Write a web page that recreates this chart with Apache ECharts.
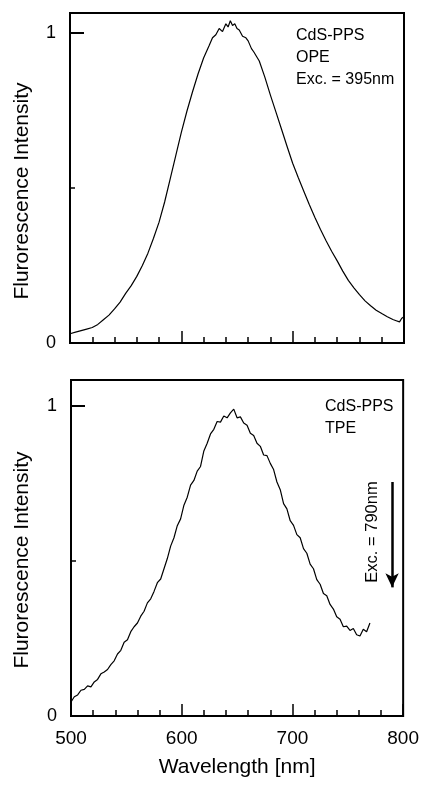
<!DOCTYPE html>
<html><head><meta charset="utf-8">
<script src="https://cdn.jsdelivr.net/npm/echarts@6/dist/echarts.min.js"></script>
<style>html,body{margin:0;padding:0;background:#fff}#c{width:422px;height:789px}</style>
</head><body><div id="c"></div>
<script>
// Top panel: one-photon excitation (OPE)
const opeWavelength = [500,505,510,515,520,525,530,535,540,545,550,555,560,565,570,575,580,585,590,595,600,605,610,615,620,625,628,631,634,637,640,642,644,646,648,650,652,655,658,660,663,665,670,675,680,685,690,695,700,705,710,715,720,725,730,735,740,745,750,755,760,765,770,775,780,785,790,793,796,798,800];
const opeIntensity  = [0.030,0.035,0.040,0.045,0.050,0.060,0.075,0.090,0.110,0.132,0.160,0.185,0.215,0.250,0.290,0.338,0.390,0.455,0.530,0.605,0.680,0.748,0.810,0.868,0.920,0.960,0.985,0.995,1.015,1.005,1.030,1.020,1.040,1.025,1.030,1.015,1.010,0.990,0.985,0.975,0.950,0.940,0.910,0.858,0.800,0.745,0.690,0.634,0.580,0.534,0.490,0.446,0.405,0.366,0.330,0.296,0.265,0.232,0.202,0.178,0.156,0.136,0.120,0.106,0.095,0.085,0.076,0.072,0.068,0.080,0.085];

// Bottom panel: two-photon excitation (TPE)
const tpeWavelength = [500,503,506,509,512,515,518,521,524,527,530,533,536,539,542,545,548,551,554,557,560,563,566,569,572,575,578,581,584,587,590,593,596,599,602,605,608,611,614,617,620,623,626,629,632,635,638,641,644,647,650,653,656,659,662,665,668,671,674,677,680,683,686,689,692,695,698,701,704,707,710,713,716,719,722,725,728,731,734,737,740,743,746,749,752,755,758,761,764,767,770];
const tpeIntensity  = [0.045,0.062,0.068,0.083,0.086,0.097,0.094,0.110,0.118,0.136,0.142,0.150,0.166,0.178,0.200,0.212,0.238,0.246,0.272,0.288,0.300,0.322,0.338,0.365,0.378,0.402,0.430,0.442,0.475,0.508,0.548,0.575,0.614,0.636,0.680,0.706,0.745,0.760,0.790,0.805,0.855,0.880,0.910,0.925,0.950,0.948,0.968,0.962,0.978,0.990,0.962,0.965,0.945,0.938,0.912,0.905,0.880,0.870,0.842,0.840,0.815,0.795,0.755,0.730,0.685,0.668,0.630,0.615,0.585,0.575,0.540,0.525,0.490,0.475,0.440,0.425,0.395,0.388,0.360,0.345,0.320,0.312,0.288,0.290,0.276,0.282,0.262,0.258,0.280,0.272,0.300];

const xTickLabels = ['500','600','700','800'];
const yTickLabels = {0:'0',1:'1'};
const excArrow = [[790,0.755],[790,0.415]];

const FONT = 'Liberation Sans';
const chart = echarts.init(document.getElementById('c'));

function xAxisFor(gridIndex, showLabels, name) {
  return {
    type:'value', gridIndex, min:500, max:800, interval:100,
    axisLine:{show:true, onZero:false, lineStyle:{color:'#000', width:2}},
    axisTick:{show:true, inside:true, length:12, lineStyle:{color:'#000', width:1.5}},
    minorTick:{show:true, splitNumber:5, length:6, lineStyle:{color:'#000', width:1.5}},
    splitLine:{show:false}, minorSplitLine:{show:false},
    axisLabel:{show:showLabels, color:'#000', fontFamily:FONT, fontSize:19, margin:13,
      formatter:(v)=> xTickLabels.indexOf(String(v))>=0 ? String(v) : ''},
    name: name, nameLocation:'middle', nameGap:41,
    nameTextStyle:{color:'#000', fontFamily:FONT, fontSize:21}
  };
}
function yAxisMain(gridIndex, max) {
  return {
    type:'value', gridIndex, min:0, max:max, interval:0.5,
    axisLine:{show:true, lineStyle:{color:'#000', width:2}},
    axisTick:{show:true, inside:true, length:5, lineStyle:{color:'#000', width:1.5}},
    splitLine:{show:false},
    axisLabel:{show:true, color:'#000', fontFamily:FONT, fontSize:18, margin:14,
      formatter:(v)=> (yTickLabels[v]!==undefined ? yTickLabels[v] : '')}
  };
}
function yAxisMajor(gridIndex, max) {
  return {
    type:'value', gridIndex, min:0, max:max, interval:1, position:'left',
    axisLine:{show:false},
    axisTick:{show:true, inside:true, length:14, lineStyle:{color:'#000', width:2}},
    splitLine:{show:false}, axisLabel:{show:false}
  };
}

const TXT = '16px "Liberation Sans"';
chart.setOption({
  animation:false,
  backgroundColor:'#fff',
  grid:[
    {left:70, right:18, top:13, height:330, show:true, borderColor:'#000', borderWidth:2},
    {left:71, right:18, top:380, height:336, show:true, borderColor:'#000', borderWidth:2}
  ],
  xAxis:[ xAxisFor(0,false,''), xAxisFor(1,true,'Wavelength [nm]') ],
  yAxis:[ yAxisMain(0,1.065), yAxisMajor(0,1.065), yAxisMain(1,1.084), yAxisMajor(1,1.084) ],
  series:[
    {type:'line', xAxisIndex:0, yAxisIndex:0, showSymbol:false, symbol:'none',
     lineStyle:{color:'#000', width:1.2},
     data: opeWavelength.map((w,i)=>[w, opeIntensity[i]])},
    {type:'line', xAxisIndex:1, yAxisIndex:2, showSymbol:false, symbol:'none',
     lineStyle:{color:'#000', width:1.2},
     data: tpeWavelength.map((w,i)=>[w, tpeIntensity[i]]),
     markLine:{silent:true, symbol:['none','arrow'], symbolSize:[10,14],
       lineStyle:{color:'#000', width:2.5, type:'solid'}, label:{show:false},
       data:[[{coord:excArrow[0]},{coord:excArrow[1]}]]}}
  ],
  graphic:[
    {type:'text', x:22, y:191, rotation:Math.PI/2, style:{text:'Flurorescence Intensity', font:'21px "Liberation Sans"', fill:'#000', align:'center', verticalAlign:'middle'}},
    {type:'text', x:22, y:560, rotation:Math.PI/2, style:{text:'Flurorescence Intensity', font:'21px "Liberation Sans"', fill:'#000', align:'center', verticalAlign:'middle'}},
    {type:'text', left:296, top:25, style:{text:'CdS-PPS\nOPE\nExc. = 395nm', font:TXT, fill:'#000', lineHeight:22}},
    {type:'text', left:325, top:396, style:{text:'CdS-PPS\nTPE', font:TXT, fill:'#000', lineHeight:22}},
    {type:'text', x:372, y:532, rotation:Math.PI/2, style:{text:'Exc. = 790nm', font:'16.5px "Liberation Sans"', fill:'#000', align:'center', verticalAlign:'middle'}}
  ]
});
</script></body></html>
